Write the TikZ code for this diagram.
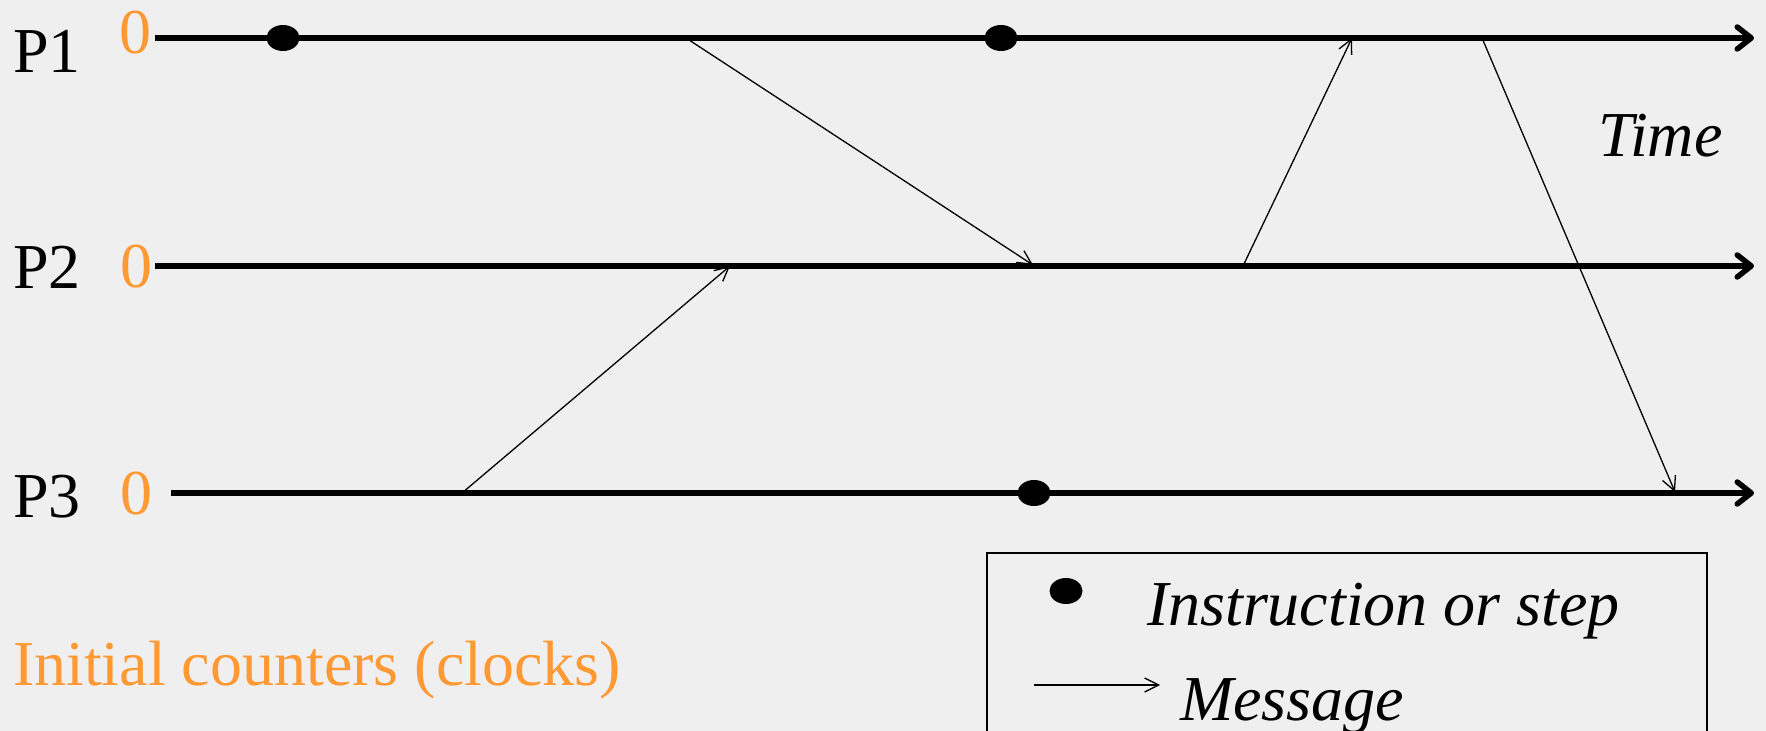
\documentclass[tikz,border=0pt]{standalone}
\usepackage{fontspec}
\setmainfont{Liberation Serif}
\usetikzlibrary{arrows.meta,shapes.geometric}
\definecolor{bg}{RGB}{239,239,239}
\definecolor{clockorange}{RGB}{255,153,51}
\begin{document}
\begin{tikzpicture}[x=0.5pt,y=-0.5pt,
  txt/.style={inner sep=0pt, outer sep=0pt, font=\fontsize{32}{38}\selectfont, anchor=base west},
  ittxt/.style={txt, font=\fontsize{32}{38}\selectfont\itshape},
  clk/.style={txt, text=clockorange},
  timeline/.style={line width=2.75pt, -{Straight Barb[length=7pt,width=11pt,line cap=round,line join=round]}},
  msg/.style={line width=0.65pt, -{Straight Barb[length=7pt,width=7pt]}},
  event/.style={ellipse, fill=black, minimum width=16.5pt, minimum height=13pt, inner sep=0pt},
]
\useasboundingbox (0,0) rectangle (1766,731);
\fill[bg] (0,0) rectangle (1766,731);
\clip (0,0) rectangle (1766,731);

% process lines
\coordinate (s1) at (155,38);  \coordinate (e1) at (1754,38);
\coordinate (s2) at (155,266); \coordinate (e2) at (1754,266);
\coordinate (s3) at (171,493); \coordinate (e3) at (1754,493);
\draw[timeline] (s1) -- (e1);
\draw[timeline] (s2) -- (e2);
\draw[timeline] (s3) -- (e3);

% events
\node[event] (d1) at (283,38) {};
\node[event] (d2) at (1001,38) {};
\node[event] (d3) at (1034,493) {};

% messages
\coordinate (m1s) at (686,38);   \coordinate (m1e) at (1033,265);
\coordinate (m2s) at (462,493);  \coordinate (m2e) at (730,266);
\coordinate (m3s) at (1243,266); \coordinate (m3e) at (1352,38);
\coordinate (m4s) at (1482,38);  \coordinate (m4e) at (1675,492);
\draw[msg] (m1s) -- (m1e);
\draw[msg] (m2s) -- (m2e);
\draw[msg] (m3s) -- (m3e);
\draw[msg] (m4s) -- (m4e);

% labels
\node[txt] (p1) at (13,73) {P1};
\node[clk] (c1) at (119,54) {0};
\node[txt] (p2) at (13,289) {P2};
\node[clk] (c2) at (120,288) {0};
\node[txt] (p3) at (13,517) {P3};
\node[clk] (c3) at (120,515) {0};
\node[ittxt] (time) at (1598,157) {Time};
\node[clk] (init) at (13,685) {Initial counters (clocks)};

% legend
\draw[line width=0.75pt] (987,740) -- (987,553) -- (1707,553) -- (1707,740);
\node[event] (ld) at (1066,591) {};
\node[ittxt] (li) at (1147,625) {Instruction or step};
\coordinate (la1) at (1034,685); \coordinate (la2) at (1160,685);
\draw[msg] (la1) -- (la2);
\node[ittxt] (lm) at (1180,720) {Message};
\end{tikzpicture}
\end{document}
